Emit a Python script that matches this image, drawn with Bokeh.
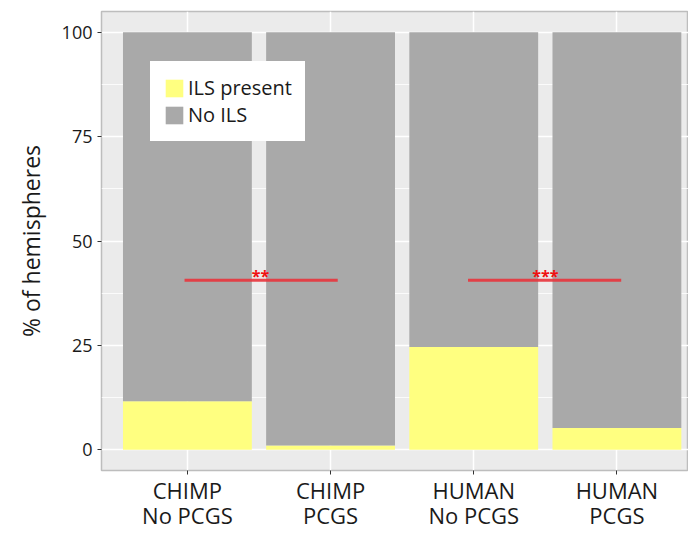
from bokeh.plotting import figure
from bokeh.models import Range1d, FixedTicker, Legend, LegendItem, ColumnDataSource, LinearAxis
from bokeh.core.properties import value
from bokeh.embed import file_html
from bokeh.resources import INLINE

# ---- data ----
categories_line1 = ["CHIMP", "CHIMP", "HUMAN", "HUMAN"]
categories_line2 = ["No PCGS", "PCGS", "No PCGS", "PCGS"]
positions = [1, 2, 3, 4]
ils_present = [11.6, 1.0, 24.6, 5.2]
no_ils = [88.4, 99.0, 75.4, 94.8]
y_ticks = [0, 25, 50, 75, 100]
y_minor = [12.5, 37.5, 62.5, 87.5]
sig_x0 = [0.98, 2.96]
sig_x1 = [2.05, 4.03]
sig_y = [40.6, 40.6]
sig_xmid = [1.51, 3.50]
sig_labels = ["**", "***"]

FONT = "Open Sans"

src = ColumnDataSource(dict(x=positions, ils=ils_present, no=no_ils))

p = figure(width=688, height=532, output_backend="svg", toolbar_location=None,
           x_range=Range1d(0.4, 4.5), y_range=Range1d(-5, 105),
           min_border_left=101, min_border_top=11, min_border_right=0, min_border_bottom=62)

p.background_fill_color = "#EBEBEB"
p.border_fill_color = "white"
p.outline_line_color = "#BDBDBD"
p.outline_line_width = 1.5

rs = p.vbar_stack(["ils", "no"], x="x", width=0.9, source=src,
                  color=["#FFFF80", "#A9A9A9"], line_color=None)

# significance bars
p.segment(x0=sig_x0, y0=sig_y, x1=sig_x1, y1=sig_y, line_color="#E8343C", line_width=3, line_alpha=0.9)
p.text(x=sig_xmid, y=sig_y, text=sig_labels, text_color="#F01010", text_align="center",
       text_baseline="middle", text_font=value(FONT), text_font_size="16px",
       text_font_style="bold", y_offset=-4)

# axes
p.xaxis.ticker = FixedTicker(ticks=positions)
p.xaxis.major_label_overrides = {pos: lab for pos, lab in zip(positions, categories_line1)}
p.yaxis.ticker = FixedTicker(ticks=y_ticks, minor_ticks=y_minor)

x2 = LinearAxis(ticker=FixedTicker(ticks=positions),
                major_label_overrides={pos: lab for pos, lab in zip(positions, categories_line2)})
p.add_layout(x2, "below")

for ax in (p.xaxis[0], p.yaxis[0], x2):
    ax.axis_line_color = None
    ax.major_tick_line_color = "#333333"
    ax.major_tick_out = 4
    ax.major_tick_in = 0
    ax.minor_tick_line_color = None
    ax.major_label_text_font = FONT
    ax.major_label_text_color = "#1a1a1a"

x2.major_tick_line_color = None
x2.major_tick_out = 0

p.yaxis.major_label_text_font_size = "18px"
p.yaxis.major_label_standoff = 5
for ax in (p.xaxis[0], x2):
    ax.major_label_text_font_size = "22px"
p.xaxis[0].major_label_standoff = 0
x2.major_label_standoff = -8

p.yaxis.axis_label = "% of hemispheres"
p.yaxis.axis_label_text_font = FONT
p.yaxis.axis_label_text_font_size = "23px"
p.yaxis.axis_label_text_font_style = "normal"
p.yaxis.axis_label_text_color = "#1a1a1a"
p.yaxis.axis_label_standoff = 12

# grid
p.xgrid.grid_line_color = "white"
p.xgrid.grid_line_width = 1.5
p.ygrid.grid_line_color = "white"
p.ygrid.grid_line_width = 1.5
p.ygrid.minor_grid_line_color = "white"
p.ygrid.minor_grid_line_width = 0.8

legend = Legend(items=[LegendItem(label="ILS present", renderers=[rs[0]]),
                       LegendItem(label="No ILS", renderers=[rs[1]])],
                location=(49, 329))
legend.background_fill_color = "white"
legend.background_fill_alpha = 1
legend.border_line_color = "white"
legend.border_line_width = 0
legend.padding = 13
legend.spacing = 0
legend.margin = 0
legend.glyph_height = 22
legend.glyph_width = 22
legend.label_height = 22
legend.label_standoff = 3
legend.label_text_font = FONT
legend.label_text_font_size = "20px"
legend.label_text_color = "#1a1a1a"
p.add_layout(legend)

open("out.html", "w").write(file_html(p, INLINE))
